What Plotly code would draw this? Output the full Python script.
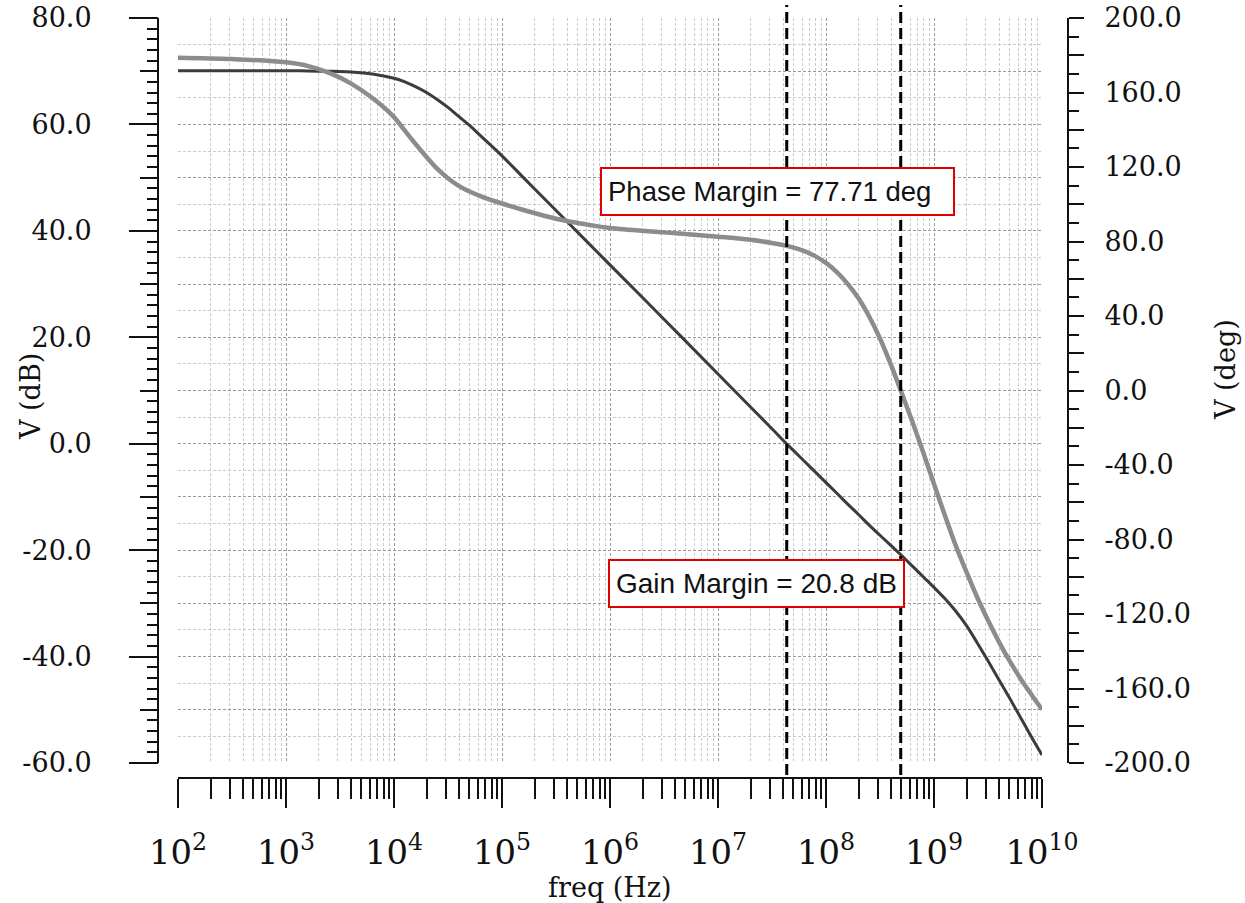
import plotly.graph_objects as go

# ---------------- data ----------------
freq_hz = [100, 316, 1000, 1580, 2510, 3980, 6310,
           1e4, 1.26e4, 1.58e4, 2e4, 2.51e4, 3.16e4, 3.98e4, 5.01e4, 6.31e4,
           1e5, 1.58e5, 2.51e5, 3.98e5, 6.31e5,
           1e6, 3.16e6, 1e7, 2e7, 3.16e7,
           3.98e7, 5.01e7, 6.31e7, 7.94e7, 1e8, 1.26e8, 1.58e8, 2e8, 2.51e8, 3.16e8,
           3.98e8, 5.01e8, 6.31e8, 7.94e8, 1e9, 1.26e9, 1.58e9, 2e9, 2.51e9, 3.16e9,
           3.98e9, 5.01e9, 6.31e9, 7.94e9, 1e10]
gain_db = [70.1, 70.1, 70.08, 70.06, 69.99, 69.84, 69.47,
           68.67, 68.0, 67.1, 66.0, 64.7, 63.2, 61.5, 59.8, 57.9,
           54.1, 50.0, 45.9, 41.8, 37.7,
           33.6, 23.4, 13.1, 6.9, 2.8,
           0.7, -1.3, -3.3, -5.3, -7.3, -9.3, -11.3, -13.3, -15.3, -17.2,
           -19.1, -21.0, -23.0, -25.0, -27.0, -29.1, -31.4, -34.2, -37.4, -40.8,
           -44.3, -47.8, -51.4, -55.0, -58.5]
phase_deg = [178.7, 177.95, 176.2, 174.3, 170.5, 164.9, 157.0,
             146.8, 139.5, 132.4, 125.4, 119.1, 114.0, 109.9, 106.8, 104.4,
             100.4, 96.9, 93.7, 91.0, 89.0,
             87.2, 84.9, 82.6, 80.9, 79.2,
             78.1, 76.7, 74.8, 72.15, 68.5, 63.6, 57.4, 49.5, 39.7, 27.9,
             14.0, -1.2, -16.8, -33.2, -50.2, -67.0, -82.9, -97.5, -111.0, -123.4,
             -134.8, -145.2, -154.6, -163.1, -171.3]

unity_gain_freq = 4.33e7
phase_cross_freq = 4.92e8
phase_margin = 77.71
gain_margin = 20.8

db_ticks = [-60, -40, -20, 0, 20, 40, 60, 80]
deg_ticks = list(range(-200, 201, 20))

# ---------------- layout geometry (pixels) ----------------
W, H = 1245, 903
PL, PR, PT, PB = 158, 1068, 18, 778          # paper box (axis lines)
PW, PH = PR - PL, PB - PT
def px(x):
    return (x - PL) / PW
def py(y):
    return (PB - y) / PH

serif = "DejaVu Serif"
sans = "Liberation Sans, Arial"
MAJ_GRID = "#9a9a9a"
MIN_GRID = "#cbcbcb"
GDASH = "3px,2px"

fig = go.Figure()
fig.add_trace(go.Scatter(x=freq_hz, y=gain_db, mode="lines", xaxis="x", yaxis="y",
                         line=dict(color="#3c3c3c", width=3, shape="spline", smoothing=1.0),
                         showlegend=False, name="gain"))
fig.add_trace(go.Scatter(x=freq_hz, y=phase_deg, mode="lines", xaxis="x", yaxis="y2",
                         line=dict(color="#8c8c8c", width=4.5, shape="spline", smoothing=1.0),
                         showlegend=False, name="phase"))
# empty trace to bind the grid/medium-tick axis
fig.add_trace(go.Scatter(x=[], y=[], xaxis="x", yaxis="y3", showlegend=False, hoverinfo="skip"))

xdom = [px(178), px(1042)]
ydom = [py(763), 1]

fig.update_layout(
    width=W, height=H,
    margin=dict(l=PL, r=W - PR, t=PT, b=H - PB, pad=0),
    paper_bgcolor="white", plot_bgcolor="white",
    showlegend=False,
    xaxis=dict(
        type="log", range=[2, 10], domain=xdom, anchor="free", position=0,
        showline=True, linecolor="#111", linewidth=2, mirror=False,
        ticks="outside", ticklen=29, tickwidth=2, tickcolor="#111",
        dtick=1, exponentformat="power", showexponent="all",
        tickfont=dict(family=serif, size=27, color="#111"),
        ticklabelstandoff=17,
        showgrid=True, gridcolor=MAJ_GRID, gridwidth=1, griddash=GDASH,
        zeroline=False, automargin=False,
        minor=dict(dtick="D1", ticks="outside", ticklen=20, tickwidth=2, tickcolor="#111",
                   showgrid=True, gridcolor=MIN_GRID, gridwidth=1, griddash=GDASH),
    ),
    yaxis=dict(
        range=[-60, 80], domain=ydom, anchor="free", position=0, side="left",
        showline=True, linecolor="#111", linewidth=2,
        ticks="outside", ticklen=28, tickwidth=2, tickcolor="#111",
        tickmode="array", tickvals=db_ticks, ticktext=[f"{v:.1f}" for v in db_ticks],
        tickfont=dict(family=serif, size=27, color="#111"),
        ticklabelstandoff=32,
        showgrid=False, zeroline=False, automargin=False,
        minor=dict(tickmode="linear", tick0=0, dtick=2, ticks="outside", ticklen=10,
                   tickwidth=1.5, tickcolor="#111", showgrid=False),
    ),
    yaxis3=dict(
        range=[-60, 80], domain=ydom, anchor="free", position=0, side="left",
        overlaying="y", showline=False,
        ticks="outside", ticklen=18, tickwidth=2, tickcolor="#111",
        tick0=0, dtick=10, showticklabels=False,
        showgrid=True, gridcolor=MAJ_GRID, gridwidth=1, griddash=GDASH,
        zeroline=False, automargin=False,
        minor=dict(tick0=0, dtick=5, ticks="", showgrid=True, gridcolor=MIN_GRID,
                   gridwidth=1, griddash=GDASH),
    ),
    yaxis2=dict(
        range=[-200, 200], domain=ydom, anchor="free", position=1, side="right",
        overlaying="y", showline=True, linecolor="#111", linewidth=2,
        ticks="outside", ticklen=15, tickwidth=2, tickcolor="#111",
        tickmode="array", tickvals=deg_ticks,
        ticktext=[f"{v:.1f}" if v % 40 == 0 else "" for v in deg_ticks],
        tickfont=dict(family=serif, size=27, color="#111"),
        ticklabelstandoff=15,
        showgrid=False, zeroline=False, automargin=False,
        minor=dict(tickmode="linear", tick0=0, dtick=10, ticks="outside", ticklen=10,
                   tickwidth=1.5, tickcolor="#111", showgrid=False),
    ),
)

for f in (unity_gain_freq, phase_cross_freq):
    fig.add_shape(type="line", xref="x", yref="paper", x0=f, x1=f,
                  y0=py(775), y1=py(5),
                  line=dict(color="black", width=3, dash="11px,5px"), layer="above")

ann = [
    dict(text="V (dB)", x=px(30), y=py(397), textangle=-90,
         font=dict(family=serif, size=27, color="#111")),
    dict(text="V (deg)", x=px(1225), y=py(370), textangle=-90,
         font=dict(family=serif, size=27, color="#111")),
    dict(text="freq (Hz)", x=px(610), y=py(887),
         font=dict(family=serif, size=27, color="#111")),
    dict(text=f"Phase Margin = {phase_margin:.2f} deg", x=px(777.9), y=py(191.7),
         width=339, height=33, align="left", valign="middle",
         font=dict(family=sans, size=27.5, color="#111"),
         bordercolor="#e00000", borderwidth=2, borderpad=6, bgcolor="white"),
    dict(text=f"Gain Margin = {gain_margin:.1f} dB", x=px(756.7), y=py(583.3),
         width=281, height=33, align="left", valign="middle",
         font=dict(family=sans, size=28, color="#111"),
         bordercolor="#e00000", borderwidth=2, borderpad=6, bgcolor="white"),
]
for a in ann:
    fig.add_annotation(xref="paper", yref="paper", showarrow=False,
                       xanchor="center", yanchor="middle", **a)

fig.write_html("out.html")
